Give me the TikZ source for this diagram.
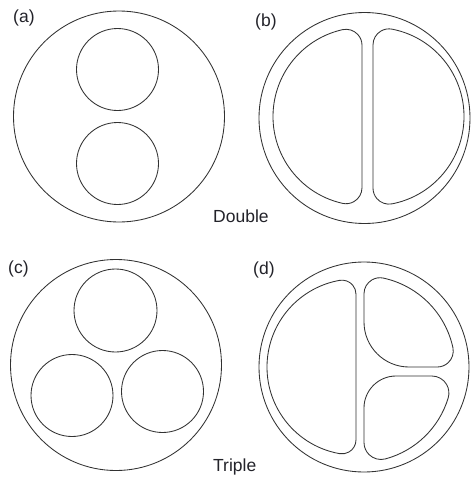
\documentclass[tikz,border=0pt]{standalone}
\usepackage{fontspec}
\setmainfont{Liberation Sans}
\definecolor{ln}{RGB}{50,50,50}
\definecolor{tx}{RGB}{35,35,42}
\tikzset{
  shapeline/.style={draw=ln,line width=0.85pt},
  lbl/.style={anchor=base west,inner sep=0pt,text=tx,font=\fontsize{17.5}{20}\selectfont}
}
% D shape, flat side on the right: Cx Cy R a r
\newcommand\DLeftShape[5]{%
  \pgfmathsetmacro\ddx{#4-#5-#1}%
  \pgfmathsetmacro\ddy{sqrt((#3-#5)^2-(\ddx)^2)}%
  \pgfmathsetmacro\phib{atan2(\ddy,\ddx)}%
  \pgfmathsetmacro\ytop{#2-\ddy}%
  \pgfmathsetmacro\ybot{#2+\ddy}%
  \pgfmathsetmacro\phit{360-\phib}%
  \draw[shapeline] (#4,\ytop) -- (#4,\ybot)
    arc[start angle=0,end angle=\phib,radius=#5]
    arc[start angle=\phib,end angle=\phit,radius=#3]
    arc[start angle=\phit,end angle=360,radius=#5] -- cycle;
}
% D shape, flat side on the left: Cx Cy R b r
\newcommand\DRightShape[5]{%
  \pgfmathsetmacro\ddx{#4+#5-#1}%
  \pgfmathsetmacro\ddy{sqrt((#3-#5)^2-(\ddx)^2)}%
  \pgfmathsetmacro\phib{atan2(\ddy,\ddx)}%
  \pgfmathsetmacro\ytop{#2-\ddy}%
  \pgfmathsetmacro\ybot{#2+\ddy}%
  \pgfmathsetmacro\phit{360-\phib}%
  \pgfmathsetmacro\phie{360+\phib}%
  \draw[shapeline] (#4,\ybot) -- (#4,\ytop)
    arc[start angle=180,end angle=\phit,radius=#5]
    arc[start angle=\phit,end angle=\phie,radius=#3]
    arc[start angle=\phib,end angle=180,radius=#5] -- cycle;
}
% upper right quarter: Cx Cy R b h r r2
\newcommand\QTopShape[7]{%
  \pgfmathsetmacro\ddx{#4+#6-#1}%
  \pgfmathsetmacro\ddy{sqrt((#3-#6)^2-(\ddx)^2)}%
  \pgfmathsetmacro\phia{360+atan2(-\ddy,\ddx)}%
  \pgfmathsetmacro\ytop{#2-\ddy}%
  \pgfmathsetmacro\eey{#5-#6-#2}%
  \pgfmathsetmacro\eex{sqrt((#3-#6)^2-(\eey)^2)}%
  \pgfmathsetmacro\phib{atan2(\eey,\eex)}%
  \pgfmathsetmacro\phibb{360+\phib}%
  \draw[shapeline] (#4,#5-#7) -- (#4,\ytop)
    arc[start angle=180,end angle=\phia,radius=#6]
    arc[start angle=\phia,end angle=\phibb,radius=#3]
    arc[start angle=\phib,end angle=90,radius=#6] -- (#4+#7,#5)
    arc[start angle=90,end angle=180,radius=#7] -- cycle;
}
% lower right quarter: Cx Cy R b h r r2
\newcommand\QBotShape[7]{%
  \pgfmathsetmacro\eey{#5+#6-#2}%
  \pgfmathsetmacro\eex{sqrt((#3-#6)^2-(\eey)^2)}%
  \pgfmathsetmacro\phia{atan2(\eey,\eex)}%
  \pgfmathsetmacro\phiaa{360+\phia}%
  \pgfmathsetmacro\xr{#1+\eex}%
  \pgfmathsetmacro\ddx{#4+#6-#1}%
  \pgfmathsetmacro\ddy{sqrt((#3-#6)^2-(\ddx)^2)}%
  \pgfmathsetmacro\phib{atan2(\ddy,\ddx)}%
  \draw[shapeline] (#4+#7,#5) -- (\xr,#5)
    arc[start angle=270,end angle=\phiaa,radius=#6]
    arc[start angle=\phia,end angle=\phib,radius=#3]
    arc[start angle=\phib,end angle=180,radius=#6] -- (#4,#5+#7)
    arc[start angle=180,end angle=270,radius=#7] -- cycle;
}
\begin{document}
\begin{tikzpicture}[x=1pt,y=-1pt]
\useasboundingbox[fill=white] (0,0) rectangle (471,477);
% (a)
\draw[shapeline] (119,116.5) circle[radius=105.5];
\draw[shapeline] (117.5,69.5) circle[radius=41];
\draw[shapeline] (117.5,163.5) circle[radius=41];
% (b)
\draw[shapeline] (364.5,118) circle[radius=105.5];
\DLeftShape{362}{116.5}{89}{362}{16}
\DRightShape{375}{116.5}{89}{373}{16}
% (c)
\draw[shapeline] (116,365) circle[radius=105.5];
\draw[shapeline] (115.5,310.5) circle[radius=41.5];
\draw[shapeline] (72,395.5) circle[radius=41];
\draw[shapeline] (162.5,391.5) circle[radius=41];
% (d)
\draw[shapeline] (364,367) circle[radius=105];
\DLeftShape{355}{367}{88}{356}{14}
\QTopShape{364}{367}{91}{364}{367}{16}{45}
\QBotShape{362}{372}{90}{364}{376}{17}{32}
% labels
\node[lbl] (la) at (13,22) {(a)};
\node[lbl] (lb) at (255,26) {(b)};
\node[lbl] (lc) at (8,273) {(c)};
\node[lbl] (ld) at (253,274) {(d)};
\node[lbl] (dbl) at (213,222) {Double};
\node[lbl] (trp) at (213,471) {Triple};
\end{tikzpicture}
\end{document}
